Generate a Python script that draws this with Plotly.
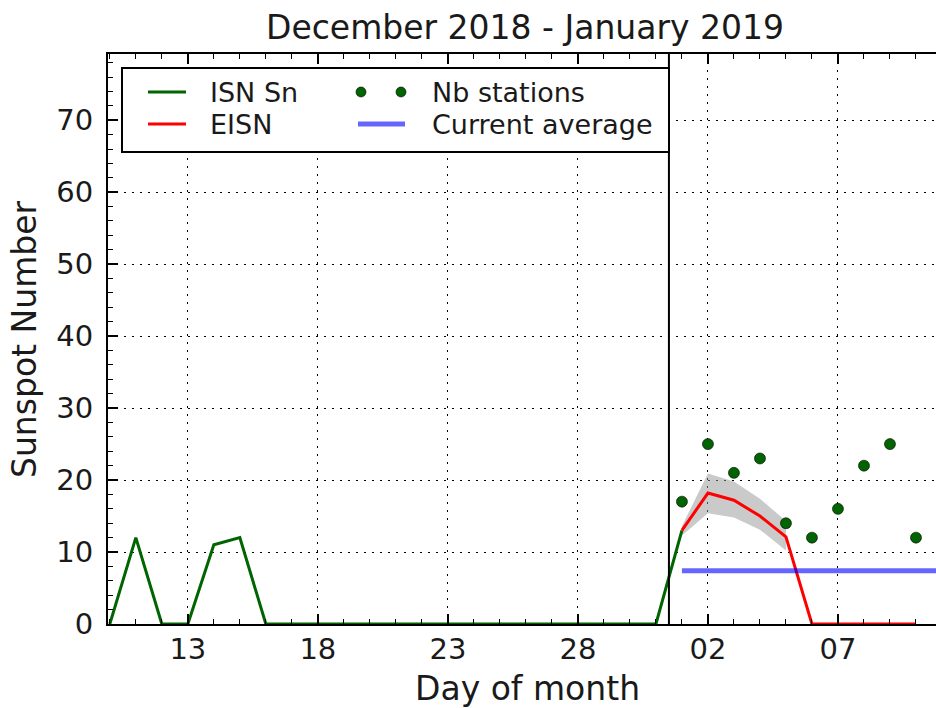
import plotly.graph_objects as go

# ---- data ----
isn_days = list(range(10, 33))
isn_values = [0, 12, 0, 0, 11, 12] + [0] * 16 + [13]

eisn_days = list(range(32, 42))
eisn_values = [13.0, 18.2, 17.2, 15.0, 12.1, 0, 0, 0, 0, 0]

band_days = [32, 33, 34, 35, 36]
band_upper = [13.6, 20.9, 19.8, 17.4, 14.3]
band_lower = [12.3, 15.4, 14.8, 13.1, 10.2]

nb_days = list(range(32, 42))
nb_stations = [17, 25, 21, 23, 14, 12, 16, 22, 25, 12]

avg_days = [32, 42]
current_average = 7.4

month_boundary = 31.5

tick_vals = [13, 18, 23, 28, 33, 38]
tick_text = ["13", "18", "23", "28", "02", "07"]

x_range = [9.93, 41.77]
y_range = [0, 79.2]

# ---- layout geometry (pixels) ----
W, H = 936, 708
L, R, T, B = 108, 0, 54, 84
PW, PH = W - L - R, H - T - B


def px(xp):
    return (xp - L) / PW


def py(yp):
    return (H - B - yp) / PH


FONT = "DejaVu Sans"
TXT = "#1a1a1a"

fig = go.Figure()

# uncertainty band
fig.add_trace(go.Scatter(x=band_days, y=band_upper, mode="lines",
                         line=dict(width=0, color="rgba(0,0,0,0)"),
                         showlegend=False, hoverinfo="skip"))
fig.add_trace(go.Scatter(x=band_days, y=band_lower, mode="lines",
                         line=dict(width=0, color="rgba(0,0,0,0)"),
                         fill="tonexty", fillcolor="rgba(150,150,150,0.5)",
                         showlegend=False, hoverinfo="skip"))

fig.add_trace(go.Scatter(x=isn_days, y=isn_values, mode="lines",
                         line=dict(color="#006400", width=3),
                         name="ISN Sn", showlegend=False))
fig.add_trace(go.Scatter(x=eisn_days, y=eisn_values, mode="lines",
                         line=dict(color="#ff0000", width=3),
                         name="EISN", showlegend=False))
fig.add_trace(go.Scatter(x=avg_days, y=[current_average] * len(avg_days), mode="lines",
                         line=dict(color="rgba(0,0,255,0.6)", width=5),
                         name="Current average", showlegend=False))
fig.add_trace(go.Scatter(x=nb_days, y=nb_stations, mode="markers",
                         marker=dict(color="#006400", size=11,
                                     line=dict(color="black", width=0.6)),
                         name="Nb stations", showlegend=False))

shapes = []
# month boundary
shapes.append(dict(type="line", xref="x", yref="paper", x0=month_boundary, x1=month_boundary,
                   y0=0, y1=1, line=dict(color="black", width=2)))

# manual legend (matplotlib style)
shapes.append(dict(type="rect", xref="paper", yref="paper",
                   x0=px(122), x1=px(669), y0=py(152), y1=py(68),
                   line=dict(color="black", width=2), fillcolor="white", layer="above"))
legend_rows = [92, 124]
shapes.append(dict(type="line", xref="paper", yref="paper", x0=px(148), x1=px(186),
                   y0=py(legend_rows[0]), y1=py(legend_rows[0]),
                   line=dict(color="#006400", width=3), layer="above"))
shapes.append(dict(type="line", xref="paper", yref="paper", x0=px(148), x1=px(186),
                   y0=py(legend_rows[1]), y1=py(legend_rows[1]),
                   line=dict(color="#ff0000", width=3), layer="above"))
shapes.append(dict(type="line", xref="paper", yref="paper", x0=px(358), x1=px(405),
                   y0=py(legend_rows[1]), y1=py(legend_rows[1]),
                   line=dict(color="rgba(0,0,255,0.6)", width=5), layer="above"))
for cx in (361, 401):
    shapes.append(dict(type="circle", xref="paper", yref="paper",
                       xsizemode="pixel", ysizemode="pixel",
                       xanchor=px(cx), yanchor=py(legend_rows[0]),
                       x0=-5, x1=5, y0=-5, y1=5,
                       fillcolor="#006400", line=dict(color="black", width=0.6), layer="above"))

annotations = []
for text, xp, row in [("ISN Sn", 208, 0), ("EISN", 208, 1),
                      ("Nb stations", 430, 0), ("Current average", 430, 1)]:
    annotations.append(dict(text=text, xref="paper", yref="paper", x=px(xp),
                            y=py(legend_rows[row]), xanchor="left", yanchor="middle",
                            showarrow=False, font=dict(family=FONT, size=27, color=TXT)))

# axis titles
annotations.append(dict(text="Day of month", xref="paper", yref="paper",
                        x=px(L + PW / 2 + 5), y=py(688), xanchor="center", yanchor="middle",
                        showarrow=False, font=dict(family=FONT, size=33, color=TXT)))
annotations.append(dict(text="Sunspot Number", xref="paper", yref="paper",
                        x=px(24), y=py(339), xanchor="center", yanchor="middle", textangle=-90,
                        showarrow=False, font=dict(family=FONT, size=33, color=TXT)))

grid_dash = "2px,6px"
fig.update_layout(
    width=W, height=H,
    margin=dict(l=L, r=R, t=T, b=B, autoexpand=False),
    paper_bgcolor="white", plot_bgcolor="white",
    font=dict(family=FONT, color=TXT),
    title=dict(text="December 2018 - January 2019", x=(L + PW / 2 + 3) / W, xanchor="center",
               y=1 - 27 / H, yanchor="middle", yref="container",
               font=dict(family=FONT, size=33, color=TXT)),
    xaxis=dict(range=x_range, tickmode="array", tickvals=tick_vals, ticktext=tick_text,
               automargin=False,
               showgrid=True, gridcolor="black", gridwidth=1, griddash=grid_dash,
               zeroline=False, showline=True, linecolor="black", linewidth=2,
               mirror="ticks", ticks="inside", ticklen=10, tickwidth=1.5, tickcolor="black",
               tickfont=dict(family=FONT, size=29, color=TXT),
               ticklabelstandoff=-2,
               minor=dict(dtick=1, tick0=0, ticks="inside", ticklen=5, tickwidth=1.2,
                          tickcolor="black", showgrid=False)),
    yaxis=dict(range=y_range, tickmode="array", tickvals=[0, 10, 20, 30, 40, 50, 60, 70],
               automargin=False,
               showgrid=True, gridcolor="black", gridwidth=1, griddash=grid_dash,
               zeroline=False, showline=True, linecolor="black", linewidth=2,
               ticks="inside", ticklen=10, tickwidth=1.5, tickcolor="black",
               tickfont=dict(family=FONT, size=29, color=TXT),
               ticklabelstandoff=7,
               minor=dict(dtick=2, tick0=0, ticks="inside", ticklen=5, tickwidth=1.2,
                          tickcolor="black", showgrid=False)),
    shapes=shapes,
    annotations=annotations,
)

fig.write_html("out.html", config={"displayModeBar": False},
               post_script="document.body.style.margin='0px';document.body.style.overflow='hidden';")
